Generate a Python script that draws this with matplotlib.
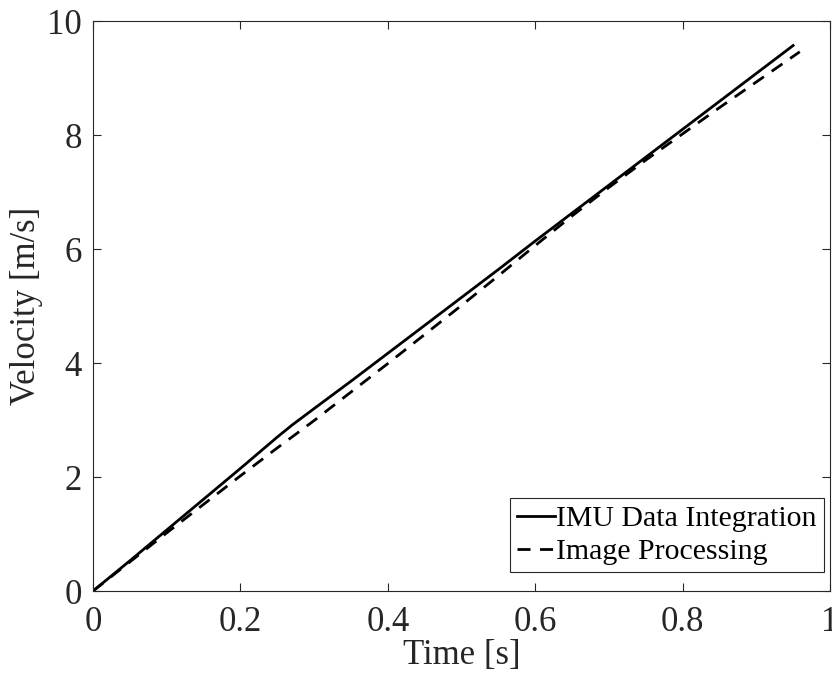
import numpy as np
import matplotlib.pyplot as plt

plt.rcParams['font.family'] = ['Liberation Serif', 'DejaVu Serif']
plt.rcParams['mathtext.fontset'] = 'stix'

# velocity from integrated IMU acceleration
t_imu = [0.0, 0.05, 0.10, 0.15, 0.20, 0.25, 0.27, 0.30, 0.35, 0.40, 0.45, 0.50,
         0.55, 0.60, 0.65, 0.70, 0.75, 0.80, 0.85, 0.90, 0.95]
v_imu = [0.0, 0.53, 1.07, 1.61, 2.15, 2.70, 2.91, 3.20, 3.68, 4.17, 4.66, 5.15,
         5.64, 6.14, 6.63, 7.12, 7.61, 8.10, 8.59, 9.08, 9.57]

# velocity from image processing
t_img = [0.0, 0.05, 0.10, 0.15, 0.20, 0.25, 0.30, 0.35, 0.40, 0.45, 0.50, 0.55,
         0.60, 0.65, 0.70, 0.75, 0.80, 0.85, 0.90, 0.959]
v_img = [0.0, 0.51, 1.02, 1.52, 2.02, 2.51, 2.99, 3.49, 3.99, 4.50, 5.01, 5.53,
         6.06, 6.58, 7.08, 7.56, 8.02, 8.48, 8.93, 9.46]

fig = plt.figure(figsize=(8.32, 6.8), dpi=100)
ax = fig.add_axes([93 / 832, 89 / 680, 737 / 832, 570 / 680])

ax.plot(t_imu, v_imu, color='k', lw=2.0, label='IMU Data Integration')
ax.plot(t_img, v_img, color='k', lw=2.0, linestyle=(0, (4.7, 3.4)),
        label='Image Processing')

ax.set_xlim(0, 1)
ax.set_ylim(0, 10)
ax.set_xticks([0, 0.2, 0.4, 0.6, 0.8, 1])
ax.set_xticklabels(['0', '0.2', '0.4', '0.6', '0.8', '1'])
ax.set_yticks([0, 2, 4, 6, 8, 10])

for s in ax.spines.values():
    s.set_color('#262626')
    s.set_linewidth(0.8)
ax.tick_params(direction='in', length=6, width=0.8, color='#262626',
               labelsize=25, labelcolor='#262626', top=True, right=True)
ax.tick_params(axis='x', pad=11)
ax.tick_params(axis='y', pad=8)

ax.set_xlabel('Time [s]', fontsize=25, color='#262626', labelpad=0)
ax.set_ylabel('Velocity [m/s]', fontsize=25, color='#262626', labelpad=3)

leg = ax.legend(loc='lower right', fontsize=21.5, frameon=True, fancybox=False,
                edgecolor='#262626', framealpha=1, handlelength=1.25,
                handletextpad=0.05, borderpad=0.25, labelspacing=0.2,
                borderaxespad=0.2, bbox_to_anchor=(1.0, 0.022))
leg.get_frame().set_linewidth(0.8)

fig.savefig('out.png', dpi=100)
